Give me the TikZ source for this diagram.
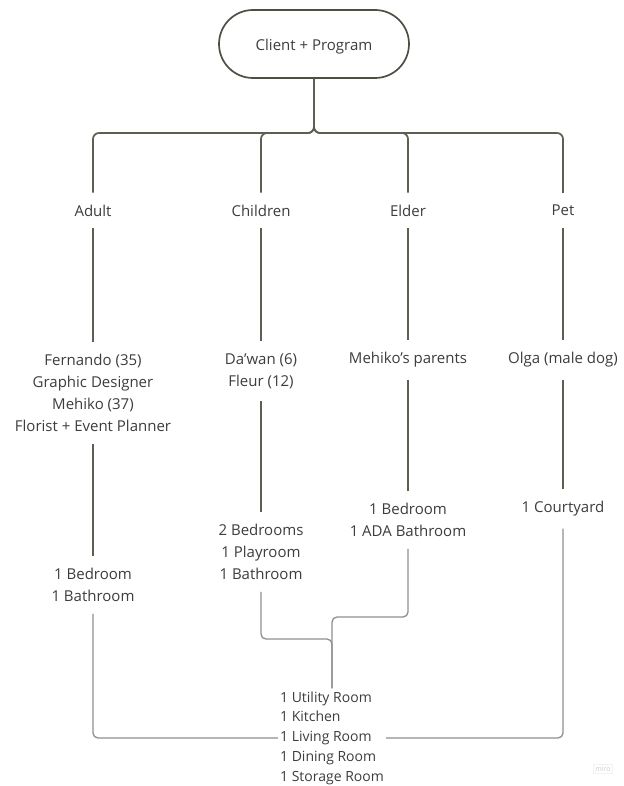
\documentclass[tikz,border=0pt]{standalone}
\usepackage{fontspec}
\setmainfont{Open Sans}
\definecolor{textc}{HTML}{3D3D3D}
\definecolor{linec}{HTML}{5E5E52}
\definecolor{linectwo}{HTML}{8F8F8F}
\definecolor{borderc}{HTML}{4E4E44}
\begin{document}
\begin{tikzpicture}[x=1pt,y=-1pt,
  txt/.style={text=textc, font=\fontsize{15}{22}\selectfont, align=center, inner xsep=2pt, inner ysep=12pt},
  topbox/.style={draw=borderc, line width=1.7pt, minimum width=190pt, minimum height=68pt, rounded corners=34pt, text=textc, font=\fontsize{15}{22}\selectfont, text height=13pt, text depth=0pt},
  listbox/.style={text=textc, font=\fontsize{14}{19.75}\selectfont, align=left, inner xsep=2pt, inner ysep=3pt},
  conn/.style={draw=linec, line width=1.7pt, rounded corners=6pt},
  conntwo/.style={draw=linectwo, line width=1.3pt, rounded corners=5pt}]
\useasboundingbox[fill=white] (0,0) rectangle (623,786);

\node[topbox] (top) at (314,44) {Client + Program};
\coordinate (bus) at (314,133);

\node[txt] (adult) at (93,210.5) {Adult};
\node[txt] (child) at (261,210.5) {Children};
\node[txt] (elder) at (408,210.5) {Elder};
\node[txt] (pet) at (563,210.5) {Pet};

\node[txt] (fern) at (93,393) {Fernando (35)\\Graphic Designer\\Mehiko (37)\\Florist + Event Planner};
\node[txt] (dawan) at (261,371) {Da’wan (6)\\Fleur (12)};
\node[txt] (mehp) at (408,360) {Mehiko’s parents};
\node[txt] (olga) at (563,360) {Olga (male dog)};

\node[txt] (adultR) at (93,585) {1 Bedroom\\1 Bathroom};
\node[txt] (childR) at (261,552) {2 Bedrooms\\1 Playroom\\1 Bathroom};
\node[txt] (elderR) at (408,520) {1 Bedroom\\1 ADA Bathroom};
\node[txt] (petR) at (563,509) {1 Courtyard};

\node[listbox] (common) at (332,738) {1 Utility Room\\1 Kitchen\\1 Living Room\\1 Dining Room\\1 Storage Room};

\node[draw=black!5, text=black!20, font=\fontsize{7}{8}\selectfont, inner sep=2pt] (miro) at (603,769) {miro};

% top tree
\draw[conn] (top.south) -- (bus) -| (adult.north);
\draw[conn] (top.south) -- (bus) -| (child.north);
\draw[conn] (top.south) -- (bus) -| (elder.north);
\draw[conn] (top.south) -- (bus) -| (pet.north);

\draw[conn] (adult.south) -- (fern.north);
\draw[conn] (child.south) -- (dawan.north);
\draw[conn] (elder.south) -- (mehp.north);
\draw[conn] (pet.south) -- (olga.north);

\draw[conn] (fern.south) -- (adultR.north);
\draw[conn] (dawan.south) -- (childR.north);
\draw[conn] (mehp.south) -- (elderR.north);
\draw[conn] (olga.south) -- (petR.north);

% bottom connectors
\coordinate (mA) at (332,639);
\coordinate (mB) at (332,617);
\draw[conntwo] (adultR.south) |- (common.west);
\draw[conntwo] (petR.south) |- (common.east);
\draw[conntwo] (childR.south) |- (mA) -- (common.north);
\draw[conntwo] (elderR.south) |- (mB) -- (common.north);
\end{tikzpicture}
\end{document}
